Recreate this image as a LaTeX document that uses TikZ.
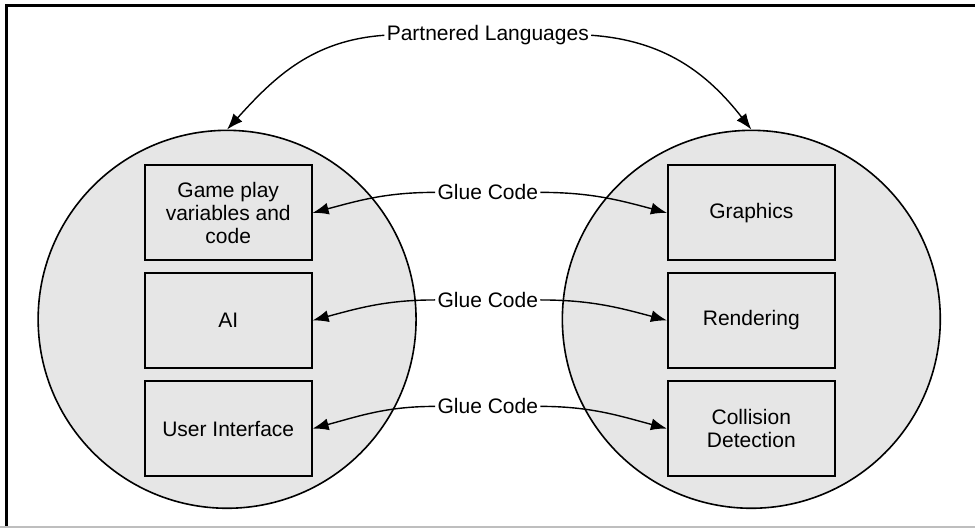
\documentclass[tikz,border=0pt]{standalone}
\usepackage{fontspec}
\setmainfont{Liberation Sans}
\usetikzlibrary{arrows.meta}
\definecolor{circlegray}{RGB}{230,230,230}
\definecolor{edgegray}{RGB}{190,190,190}

\begin{document}
\begin{tikzpicture}[
    font=\fontsize{10.5}{11.5}\selectfont,
    langcircle/.style={circle, draw, line width=0.8pt, fill=circlegray,
      minimum size=6.64cm, inner sep=0pt},
    partbox/.style={draw, line width=1pt, minimum width=2.93cm,
      minimum height=1.67cm, align=center, inner sep=2pt},
    tag/.style={inner sep=1pt},
    link/.style={-{Latex[length=8pt,width=6pt]}, line width=0.7pt}]

\useasboundingbox (0,0) rectangle (17.13,9.28);

%% ── frame (top and left edges only) ──────────────────────────────
\draw[line width=1.5pt] (17.13,9.18) -- (0.11,9.18) -- (0.11,0);
\draw[edgegray, line width=0.6pt] (0,0.02) -- (17.13,0.02);

%% ── the two languages ────────────────────────────────────────────
\node[langcircle] (leftlang)  at (3.99,3.67) {};
\node[langcircle] (rightlang) at (13.20,3.67) {};

% left language: game side
\node[partbox] (gameplay) at (4.01,5.54) {Game play\\variables and\\code};
\node[partbox] (ai)       at (4.01,3.65) {AI};
\node[partbox] (ui)       at (4.01,1.75) {User Interface};

% right language: engine side
\node[partbox] (graphics)  at (13.20,5.54) {Graphics};
\node[partbox] (rendering) at (13.20,3.65) {Rendering};
\node[partbox] (collision) at (13.20,1.75) {Collision\\Detection};

%% ── labels ───────────────────────────────────────────────────────
\node[tag] (partner) at (8.57,8.66) {Partnered Languages};
\node[tag] (glueA)   at (8.57,5.90) {Glue Code};
\node[tag] (glueB)   at (8.57,4.01) {Glue Code};
\node[tag] (glueC)   at (8.57,2.14) {Glue Code};

%% ── connectors ───────────────────────────────────────────────────
\draw[link] (partner.west) to[out=184, in=48]  (leftlang.north);
\draw[link] (partner.east) to[out=-4,  in=128] (rightlang.north);

\draw[link] (glueA.west) to[out=180, in=15]  (gameplay.east);
\draw[link] (glueA.east) to[out=0,   in=165] (graphics.west);
\draw[link] (glueB.west) to[out=180, in=15]  (ai.east);
\draw[link] (glueB.east) to[out=0,   in=165] (rendering.west);
\draw[link] (glueC.west) to[out=180, in=15]  (ui.east);
\draw[link] (glueC.east) to[out=0,   in=165] (collision.west);

\end{tikzpicture}
\end{document}
